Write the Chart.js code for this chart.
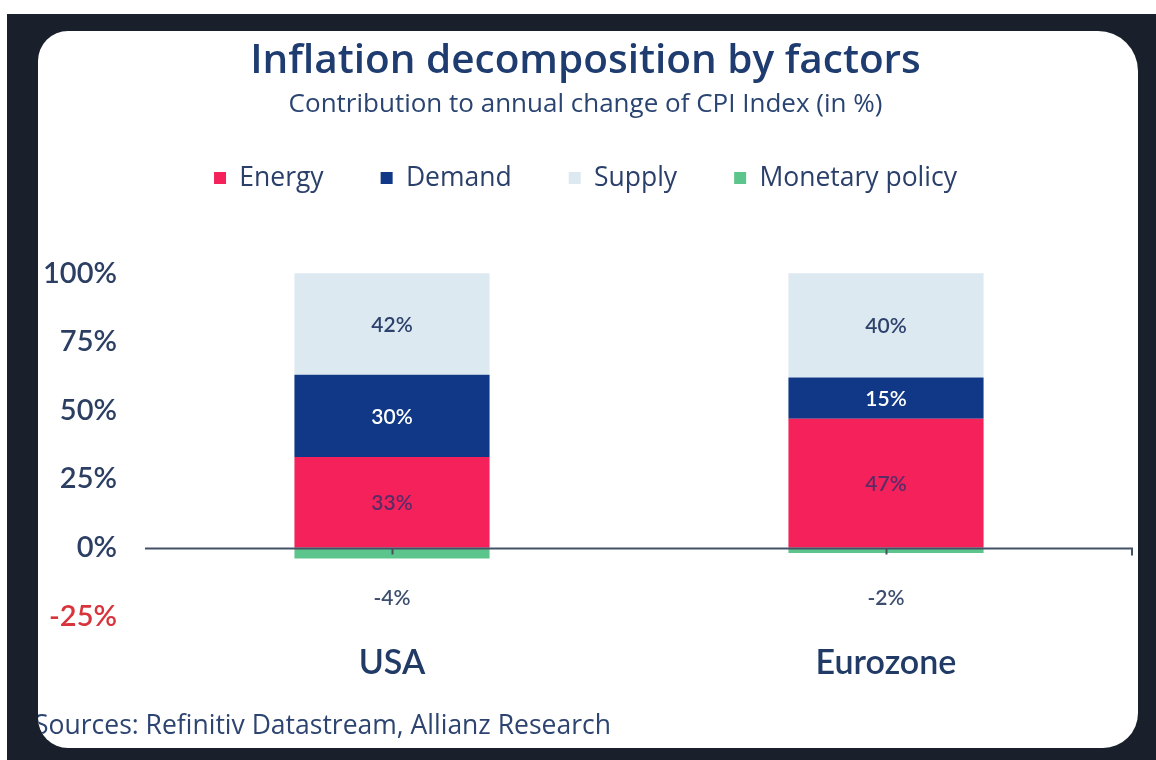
<!DOCTYPE html>
<html>
<head>
<meta charset="utf-8">
<script src="https://cdn.jsdelivr.net/npm/chart.js@4"></script>
<style>
  html, body { margin: 0; padding: 0; background: #fff; }
  body { width: 1156px; height: 760px; position: relative; overflow: hidden; font-family: "Open Sans", Lato, sans-serif; }
  .frame { position: absolute; left: 7px; top: 14px; width: 1149px; height: 746px; background: #19202b; }
  .card {
    position: absolute; left: 38px; top: 31px; width: 1100px; height: 717px;
    background: #fff; overflow: hidden;
    border-radius: 30px 40px 35px 30px;
  }
  .card canvas { position: absolute; left: 0; top: 0; }
  .source {
    position: absolute; left: -4px; top: 675px;
    font-size: 26.5px; color: #2d4470; white-space: nowrap;
  }
</style>
</head>
<body>
<div class="frame"></div>
<div class="card">
  <canvas id="chart" width="1100" height="717"></canvas>
  <div class="source">Sources: Refinitiv Datastream, Allianz Research</div>
</div>
<script>
var regions = ['USA', 'Eurozone'];
var energy = [33, 47];
var demand = [30, 15];
var supply = [42, 40];
var monetary = [-4, -2];
var yTicks = [100, 75, 50, 25, 0, -25];

// value labels in the middle of the visible part of each segment
var segmentLabels = {
  id: 'segmentLabels',
  afterDatasetsDraw: function (chart) {
    var ctx = chart.ctx;
    var area = chart.chartArea;
    var y = chart.scales.y;
    ctx.save();
    ctx.textAlign = 'center';
    ctx.textBaseline = 'middle';
    ctx.font = '600 21px Lato, sans-serif';
    chart.data.datasets.forEach(function (ds, di) {
      var meta = chart.getDatasetMeta(di);
      meta.data.forEach(function (bar, i) {
        var v = ds.data[i];
        var label = v + '%';
        if (v < 0) {
          ctx.fillStyle = '#3b4e6e';
          ctx.fillText(label, bar.x, y.getPixelForValue(0) + 51);
          return;
        }
        var top = Math.max(bar.y, area.top);
        var bottom = Math.min(bar.base, area.bottom);
        ctx.fillStyle = ds.labelColor;
        ctx.fillText(label, bar.x, (top + bottom) / 2 + 1);
      });
    });
    ctx.restore();
  }
};

// zero axis with tick marks under each category
var zeroAxis = {
  id: 'zeroAxis',
  afterDatasetsDraw: function (chart) {
    var ctx = chart.ctx;
    var area = chart.chartArea;
    var x = chart.scales.x;
    var y0 = Math.round(chart.scales.y.getPixelForValue(0)) + 0.5;
    ctx.save();
    ctx.strokeStyle = '#445268';
    ctx.lineWidth = 2;
    ctx.beginPath();
    ctx.moveTo(area.left, y0);
    ctx.lineTo(area.right, y0);
    regions.forEach(function (r, i) {
      var px = Math.round(x.getPixelForValue(i)) + 0.5;
      ctx.moveTo(px, y0);
      ctx.lineTo(px, y0 + 6);
    });
    ctx.moveTo(area.right - 1, y0);
    ctx.lineTo(area.right - 1, y0 + 7);
    ctx.stroke();
    ctx.restore();
  }
};

// extra room between the legend and the plot
var legendGap = {
  id: 'legendGap',
  beforeInit: function (chart) {
    var fit = chart.legend.fit;
    chart.legend.fit = function () {
      fit.call(this);
      this.height += 72;
    };
  }
};

new Chart(document.getElementById('chart'), {
  type: 'bar',
  data: {
    labels: regions,
    datasets: [
      { label: 'Energy', data: energy, backgroundColor: '#f5215a', labelColor: '#5b2b66' },
      { label: 'Demand', data: demand, backgroundColor: '#103886', labelColor: '#ffffff' },
      { label: 'Supply', data: supply, backgroundColor: '#dde9f0', labelColor: '#2c416c' },
      { label: 'Monetary policy', data: monetary, backgroundColor: '#5cc58b', labelColor: '#3b4e6e' }
    ]
  },
  options: {
    responsive: false,
    animation: false,
    layout: { padding: { top: 0, right: 5, bottom: 39, left: 0 } },
    datasets: {
      bar: { categoryPercentage: 1, barPercentage: 0.395, borderWidth: 0 }
    },
    plugins: {
      title: {
        display: true,
        text: 'Inflation decomposition by factors',
        color: '#1f3c70',
        font: { family: 'Open Sans', size: 40.5, weight: '600' },
        padding: { top: 6, bottom: 3 }
      },
      subtitle: {
        display: true,
        text: 'Contribution to annual change of CPI Index (in %)',
        color: '#2a4472',
        font: { family: 'Open Sans', size: 26, weight: '400' },
        padding: { top: 0, bottom: -12 }
      },
      legend: {
        display: true,
        labels: {
          boxWidth: 12,
          boxHeight: 12,
          padding: 57,
          color: '#2a3f6a',
          font: { family: 'Open Sans', size: 26.5 }
        }
      },
      tooltip: { enabled: false }
    },
    scales: {
      x: {
        stacked: true,
        grid: { display: false, drawTicks: false },
        border: { display: false },
        ticks: {
          color: '#213b66',
          padding: 26,
          font: { family: 'Lato', size: 34, weight: '600' }
        }
      },
      y: {
        stacked: true,
        min: -25,
        max: 100,
        afterBuildTicks: function (axis) {
          axis.ticks = yTicks.map(function (v) { return { value: v }; });
        },
        afterFit: function (axis) { axis.width = 107; },
        grid: { display: false, drawTicks: false },
        border: { display: false },
        ticks: {
          padding: 28,
          color: function (c) { return c.tick.value < 0 ? '#d8343c' : '#2c3f63'; },
          font: { family: 'Lato', size: 29, weight: '600' },
          callback: function (v) { return v + '%'; }
        }
      }
    }
  },
  plugins: [segmentLabels, zeroAxis, legendGap]
});
</script>
</body>
</html>
